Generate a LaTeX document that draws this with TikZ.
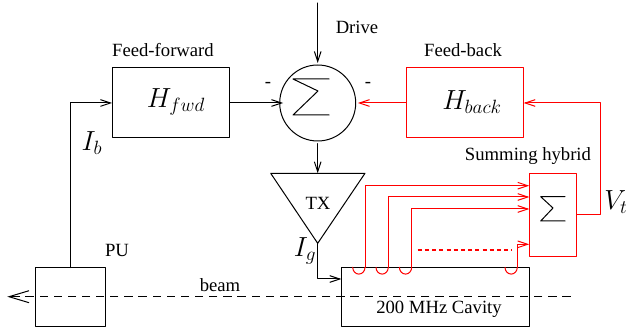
\documentclass[tikz,border=0pt]{standalone}
\usepackage{fontspec}
\setmainfont{Liberation Serif}
\usetikzlibrary{arrows.meta}
\tikzset{every text node part/.style={align=center}}
\tikzset{lab/.style = {inner sep=0pt, font=\fontsize{14}{15}\selectfont}}
\tikzset{mth/.style = {inner sep=0pt, font=\huge}}
\tikzset{box/.style = {draw, rectangle, inner sep=0pt, outer sep=0pt}}
\tikzset{feed/.style = {box, minimum width=88.2pt, minimum height=52.5pt}}
\tikzset{sig/.style = {-{Straight Barb[length=7.5pt, width=5pt]}}}

\begin{document}
\begin{tikzpicture}[x=0.75pt, y=-0.75pt, line width=0.75pt, line cap=round, line join=round]
		\useasboundingbox (0,0) rectangle (626,335);

		% Boxes
		\node[feed] (fwd) at (170.8,103) {};
		\node[feed, red] (back) at (464.8,103) {};
		\node[box, minimum width=53pt, minimum height=44pt] (pu) at (70.6,297) {};
		\node[box, minimum width=141pt, minimum height=44pt] (cavity) at (435.3,296.7) {};
		\node[box, red, minimum width=35.5pt, minimum height=62pt] (hybrid) at (553,214.7) {};
		\node[draw, circle, minimum size=57pt, inner sep=0pt, outer sep=0pt] (sum) at (317.7,103) {};

		% Coordinates
		\coordinate (drive) at (317.7,3);
		\coordinate (TXl) at (270.7,173.3);
		\coordinate (TXr) at (365,173.3);
		\coordinate (TXb) at (317.7,243.3);
		\coordinate (TXt) at (317.7,173.3);
		\coordinate (Ig) at (317.7,279);
		\coordinate (Ic) at (341.3,279);
		\coordinate (PUt) at (70.3,267.7);
		\coordinate (PUc) at (70.3,103);
		\coordinate (Vb) at (576.7,215);
		\coordinate (Vc) at (600,215);
		\coordinate (Vt) at (600,103);
		\coordinate (beamR) at (570.7,296.7);
		\coordinate (beamL) at (7.3,296.7);

		% Triangle
		\draw (TXl) -- (TXr) -- (TXb) -- cycle;

		% Sigmas
		\draw (329,79) -- (293,79) -- (318,91) -- (293,115) -- (329,115);
		\draw (565,196.7) -- (540.7,196.7) -- (553,208) -- (540.7,221) -- (565,221);

		% Black signals
		\draw[sig, shorten >=1.5pt] (drive) -- (sum.north);
		\draw[sig, shorten >=-2.5pt] (fwd.east) -- (sum.west);
		\draw[sig, shorten <=2pt] (sum.south) -- (TXt);
		\draw[sig] (TXb) -- (Ig) -- (Ic);
		\draw[sig] (PUt) -- (PUc) -- (fwd.west);

		% Red signals
		\draw[sig, red, shorten >=1.7pt] (back.west) -- (sum.east);
		\draw[sig, red] (Vb) -- (Vc) -- (Vt) -- (back.east);

		% Pick-up loops
		\foreach \name/\xx/\yy in {a/365/185.7, b/388.3/197, c/411.7/209}
		{
			\draw[red] (\xx-12.3,267.3) arc[start angle=180, end angle=360, x radius=6.15, y radius=-6.8];
			\coordinate (\name1) at (\xx,267.3);
			\coordinate (\name2) at (\xx,\yy);
			\coordinate (\name3) at (529.3,\yy);
			\draw[sig, red] (\name1) -- (\name2) -- (\name3);
		}
		\draw[red] (505,267.3) arc[start angle=180, end angle=360, x radius=6.15, y radius=-6.8];
		\coordinate (d1) at (517.3,267.3);
		\coordinate (d2) at (517.3,244.3);
		\coordinate (d3) at (529.3,244.3);
		\draw[sig, red] (d1) -- (d2) -- (d3);

		\coordinate (dotL) at (417.7,250);
		\coordinate (dotR) at (511.7,250);
		\draw[red, line width=1.6pt, line cap=butt, dash pattern=on 3pt off 2.4pt] (dotL) -- (dotR);

		% Beam
		\draw[line cap=butt, dash pattern=on 6.2pt off 4.4pt, -{Straight Barb[length=15pt, width=9pt]}] (beamR) -- (beamL);

		% Nodes
		\node[lab] (fwdT) at (163,50) {Feed-forward};
		\node[lab] (backT) at (463,50) {Feed-back};
		\node[lab] (driveT) at (357,27) {Drive};
		\node[lab] (hybT) at (528,156) {Summing hybrid};
		\node[lab] (puT) at (117,250) {PU};
		\node[lab] (txT) at (318,203) {TX};
		\node[lab] (beamT) at (220,285) {beam};
		\node[lab] (cavT) at (439,309) {200 MHz Cavity};
		\node[lab] (mL) at (268,85) {-};
		\node[lab] (mR) at (368,85) {-};
		\node[mth] (fwdH) at (176,102) {$H_{fwd}$};
		\node[mth] (backH) at (472,102) {$H_{back}$};
		\node[mth] (Ib) at (92,143) {$I_b$};
		\node[mth] (IgT) at (305,251) {$I_g$};
		\node[mth] (VtT) at (616,202) {$V_t$};
	\end{tikzpicture}
\end{document}
